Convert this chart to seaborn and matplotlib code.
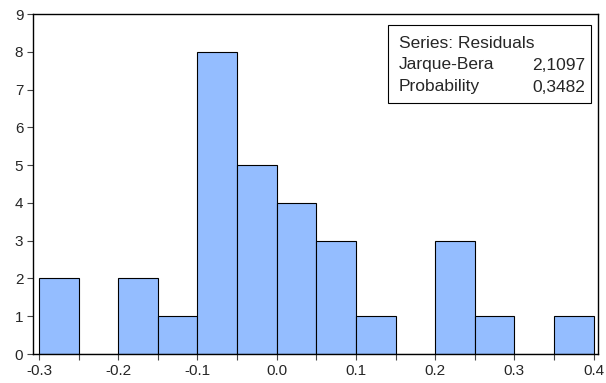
import numpy as np
import pandas as pd
import matplotlib
matplotlib.use("Agg")
import matplotlib.pyplot as plt
import seaborn as sns

# Histogram of residuals (bin width 0.05)
bin_edges = [-0.30, -0.25, -0.20, -0.15, -0.10, -0.05, 0.00, 0.05,
             0.10, 0.15, 0.20, 0.25, 0.30, 0.35, 0.40]
counts = [2, 0, 2, 1, 8, 5, 4, 3, 1, 0, 3, 1, 0, 1]
x_ticks = [-0.3, -0.2, -0.1, 0.0, 0.1, 0.2, 0.3, 0.4]
x_tick_labels = ["-0.3", "-0.2", "-0.1", "0.0", "0.1", "0.2", "0.3", "0.4"]
y_ticks = [0, 1, 2, 3, 4, 5, 6, 7, 8, 9]
stats_labels = ["Jarque-Bera", "Probability"]
stats_values = ["2,1097", "0,3482"]

centros = [(a + b) / 2 for a, b in zip(bin_edges[:-1], bin_edges[1:])]
df = pd.DataFrame({"residuo": centros, "n": counts})

sns.set_style("white")
plt.rcParams["font.family"] = ["Liberation Sans", "DejaVu Sans"]

fig = plt.figure(figsize=(6.06, 3.83), dpi=100)
ax = fig.add_axes([33 / 606, 1 - 354 / 383, 565 / 606, 340 / 383])

sns.histplot(data=df, x="residuo", weights="n", bins=bin_edges, ax=ax,
             color="#94BDFF", alpha=1, edgecolor="black", linewidth=0.8)

ax.set_xlim(-0.3076, 0.4055)
ax.set_ylim(0, 9)
ax.set_xticks(x_ticks)
ax.set_xticklabels(x_tick_labels)
ax.set_xticks(bin_edges, minor=True)
ax.set_yticks(y_ticks)
ax.set_xlabel("")
ax.set_ylabel("")
ax.tick_params(axis="both", which="both", direction="out", length=4,
               width=0.8, labelsize=11, color="#444444", pad=3)
ax.tick_params(axis="x", which="both", bottom=True)
ax.tick_params(axis="y", left=True)
for s in ax.spines.values():
    s.set_visible(True)
    s.set_color("black")
    s.set_linewidth(1.0)

# caja de estadisticos
caja = plt.Rectangle((388 / 606, 1 - 103 / 383), 203 / 606, 78 / 383,
                     transform=fig.transFigure, fill=True, facecolor="white",
                     edgecolor="black", linewidth=0.8, zorder=5)
fig.patches.append(caja)
fig.text(399 / 606, 1 - 43 / 383, "Series: Residuals", fontsize=12.5,
         va="center", ha="left", zorder=6)
for i, (lab, val) in enumerate(zip(stats_labels, stats_values)):
    y = 1 - (65 + 22 * i) / 383
    fig.text(399 / 606, y, lab, fontsize=12.5, va="center", ha="left", zorder=6)
    fig.text(585 / 606, y, val, fontsize=12.5, va="center", ha="right", zorder=6)

fig.savefig("out.png", dpi=100)
